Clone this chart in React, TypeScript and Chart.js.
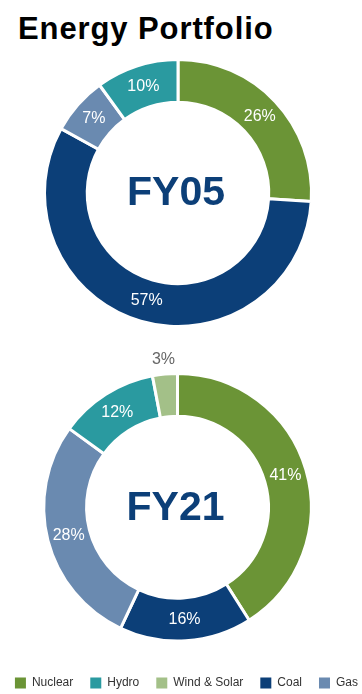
import React, { useEffect, useRef } from "react";
import { Chart, registerables } from "chart.js";

Chart.register(...registerables);

const sliceLabels = ["Nuclear", "Coal", "Gas", "Hydro", "Wind & Solar"];
const legendOrder = ["Nuclear", "Hydro", "Wind & Solar", "Coal", "Gas"];
const fy05Values = [26, 57, 7, 10, 0];
const fy21Values = [41, 16, 28, 12, 3];
const sliceColors = ["#6b9436", "#0c3f78", "#6a8ab0", "#2a9aa0", "#a3c088"];
const centerTitles = ["FY05", "FY21"];

const FONT = "'Liberation Sans', Arial, Helvetica, sans-serif";

const labelPlugin = {
  id: "sliceLabels",
  afterDatasetsDraw(chart: any) {
    const ctx = chart.ctx;
    const meta = chart.getDatasetMeta(0);
    const data = chart.data.datasets[0].data as number[];
    ctx.save();
    ctx.textAlign = "center";
    ctx.textBaseline = "middle";
    ctx.font = `16px ${FONT}`;
    meta.data.forEach((arc: any, i: number) => {
      const v = data[i];
      if (!v) return;
      const text = `${v}%`;
      if (v < 5) {
        const mid = (arc.startAngle + arc.endAngle) / 2;
        const r = arc.outerRadius + 15;
        ctx.fillStyle = "#666666";
        ctx.fillText(text, arc.x + Math.cos(mid) * r, arc.y + Math.sin(mid) * r);
      } else {
        const p = arc.tooltipPosition();
        ctx.fillStyle = "#ffffff";
        ctx.fillText(text, p.x, p.y);
      }
    });
    const title = chart.options.plugins.centerTitle?.text;
    if (title && meta.data[0]) {
      const a = meta.data[0];
      ctx.font = `bold 41px ${FONT}`;
      ctx.fillStyle = "#0c3f78";
      ctx.fillText(title, a.x - 2, a.y + 1);
    }
    ctx.restore();
  },
};

function makeConfig(values: number[], title: string, withLegend: boolean, padding: any): any {
  return {
    type: "doughnut",
    data: {
      labels: sliceLabels,
      datasets: [
        {
          data: values,
          backgroundColor: sliceColors,
          borderColor: "#ffffff",
          borderWidth: 3,
        },
      ],
    },
    options: {
      responsive: false,
      animation: false,
      cutout: "68%",
      layout: { padding },
      plugins: {
        centerTitle: { text: title },
        tooltip: { enabled: false },
        legend: {
          display: withLegend,
          position: "bottom",
          align: "end",
          title: { display: true, text: "", font: { size: 10, lineHeight: 1.75 }, padding: 0 },
          labels: {
            boxWidth: 11,
            boxHeight: 11,
            padding: 17,
            color: "#333333",
            font: { family: FONT, size: 12 },
            sort: (a: any, b: any) => legendOrder.indexOf(a.text) - legendOrder.indexOf(b.text),
            generateLabels: (chart: any) => {
              const ds = chart.data.datasets[0];
              return chart.data.labels.map((l: string, i: number) => ({
                text: l,
                fillStyle: ds.backgroundColor[i],
                strokeStyle: ds.backgroundColor[i],
                lineWidth: 0,
                hidden: false,
                index: i,
                fontColor: "#333333",
              }));
            },
          },
        },
      },
    },
    plugins: [labelPlugin],
  };
}

export default function App() {
  const ref1 = useRef<HTMLCanvasElement>(null);
  const ref2 = useRef<HTMLCanvasElement>(null);

  useEffect(() => {
    const c1 = new Chart(
      ref1.current!,
      makeConfig(fy05Values, centerTitles[0], false, { top: 2, bottom: 4, left: 0, right: 6 })
    );
    const c2 = new Chart(
      ref2.current!,
      makeConfig(fy21Values, centerTitles[1], true, { top: 32, bottom: 0, left: 10, right: 4 })
    );
    return () => {
      c1.destroy();
      c2.destroy();
    };
  }, []);

  return (
    <div style={{ position: "absolute", left: 0, top: 0, width: 362, height: 694, background: "#ffffff", overflow: "hidden" }}>
      <div
        style={{
          position: "absolute",
          left: 18,
          top: 11,
          fontFamily: FONT,
          fontWeight: "bold",
          fontSize: 31,
          letterSpacing: "0.9px",
          color: "#000000",
          lineHeight: "36px",
          whiteSpace: "nowrap",
        }}
      >
        Energy Portfolio
      </div>
      <canvas ref={ref1} width={362} height={276} style={{ position: "absolute", left: 0, top: 56, display: "block" }} />
      <canvas ref={ref2} width={409} height={359} style={{ position: "absolute", left: -30, top: 340, display: "block" }} />
    </div>
  );
}
